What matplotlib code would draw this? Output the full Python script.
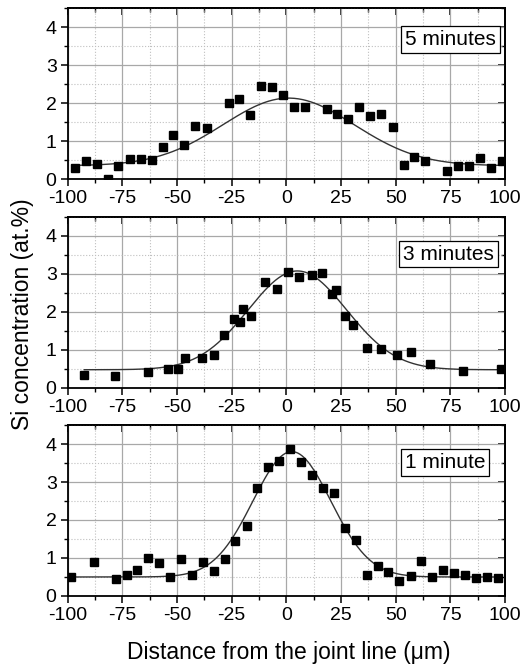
import matplotlib.pyplot as plt
import numpy as np
from matplotlib.ticker import MultipleLocator

plt.rcParams["font.family"] = ["Liberation Sans", "DejaVu Sans"]
plt.rcParams["axes.unicode_minus"] = False

# 5 minutes
x_5min = [-96.7, -91.6, -86.7, -81.7, -76.9, -71.5, -66.6, -61.6, -56.6, -51.7, -46.8, -41.7, -36.5,
          -26.4, -21.7, -16.7, -11.5, -6.5, -1.6, 3.5, 8.3, 18.5, 23.2, 28.3, 33.3, 38.2, 43.4, 48.6,
          53.6, 58.4, 63.3, 73.5, 78.6, 83.6, 88.6, 93.5, 98.4]
y_5min = [0.28, 0.48, 0.40, 0.0, 0.35, 0.53, 0.53, 0.49, 0.85, 1.16, 0.89, 1.40, 1.34,
          1.99, 2.11, 1.68, 2.45, 2.42, 2.20, 1.90, 1.90, 1.83, 1.71, 1.58, 1.90, 1.65, 1.72, 1.37,
          0.37, 0.59, 0.48, 0.21, 0.35, 0.33, 0.55, 0.28, 0.48]

# 3 minutes
x_3min = [-92.4, -78.4, -63.3, -54.3, -49.6, -46.4, -38.5, -33.3, -28.4, -24.1, -21.4, -20.0, -16.2,
          -9.9, -4.2, 0.7, 5.6, 11.5, 16.4, 21.0, 22.8, 26.8, 30.4, 36.7, 43.2, 50.4, 56.8, 65.6,
          80.6, 98.1]
y_3min = [0.34, 0.32, 0.41, 0.49, 0.49, 0.78, 0.78, 0.86, 1.40, 1.81, 1.73, 2.09, 1.90,
          2.78, 2.60, 3.05, 2.91, 2.97, 3.03, 2.47, 2.59, 1.89, 1.67, 1.04, 1.03, 0.88, 0.95, 0.62,
          0.45, 0.49]

# 1 minute
x_1min = [-98.5, -88.1, -78.1, -73.0, -68.5, -63.2, -58.1, -53.1, -48.2, -43.3, -38.1, -33.1, -28.2,
          -23.4, -18.2, -13.5, -8.4, -3.3, 1.8, 6.8, 11.7, 16.7, 21.9, 26.8, 31.7, 36.7, 41.9, 46.6,
          51.6, 56.8, 61.6, 66.7, 71.7, 76.7, 81.8, 86.7, 91.8, 96.7]
y_1min = [0.49, 0.89, 0.44, 0.56, 0.68, 1.01, 0.88, 0.49, 0.98, 0.56, 0.89, 0.65, 0.97,
          1.44, 1.85, 2.84, 3.40, 3.55, 3.87, 3.52, 3.18, 2.83, 2.70, 1.78, 1.48, 0.56, 0.79, 0.63,
          0.40, 0.53, 0.93, 0.49, 0.69, 0.60, 0.56, 0.47, 0.51, 0.47]

# Gaussian fit: baseline, amplitude, centre, width
fit_5min = [0.35, 1.78, 1.0, 30.0]
fit_3min = [0.48, 2.60, 5.0, 22.5]
fit_1min = [0.50, 3.30, 2.5, 17.8]

labels = ["5 minutes", "3 minutes", "1 minute"]
xs = [x_5min, x_3min, x_1min]
ys = [y_5min, y_3min, y_1min]
fits = [fit_5min, fit_3min, fit_1min]
label_pos = [(0.979, 0.871), (0.974, 0.838), (0.954, 0.836)]
bottoms = [0.7332, 0.4218, 0.1118]

gauss = lambda x, y0, a, xc, w: y0 + a*np.exp(-(x - xc)**2/(2*w**2))

fig = plt.figure(figsize=(5.27, 6.71), dpi=100)

for x, y, p, lab, pos, b in zip(xs, ys, fits, labels, label_pos, bottoms):
    ax = fig.add_axes([0.1285, b, 0.830, 0.2548])
    ax.set_xlim(-100, 100)
    ax.set_ylim(0, 4.5)
    ax.set_axisbelow(True)
    ax.xaxis.set_major_locator(MultipleLocator(25))
    ax.xaxis.set_minor_locator(MultipleLocator(12.5))
    ax.yaxis.set_major_locator(MultipleLocator(1))
    ax.yaxis.set_minor_locator(MultipleLocator(0.5))
    ax.grid(which="major", color="#a8a8a8", lw=0.9)
    ax.grid(which="minor", color="#c0c0c0", ls=":", lw=0.8)

    xf = np.linspace(min(x), max(x), 400)
    ax.plot(xf, gauss(xf, *p), color="#333333", lw=1.0)
    ax.plot(x, y, "s", color="black", ms=5.3)

    ax.tick_params(which="major", direction="out", length=5, width=1.1, labelsize=14, pad=3)
    ax.tick_params(which="minor", direction="out", length=3, width=1.0)
    for s in ax.spines.values():
        s.set_linewidth(1.3)

    top = ax.secondary_xaxis("top")
    top.xaxis.set_major_locator(MultipleLocator(25))
    top.xaxis.set_minor_locator(MultipleLocator(12.5))
    top.tick_params(which="major", direction="in", length=5, width=1.1, labeltop=False)
    top.tick_params(which="minor", direction="in", length=3, width=1.0)
    top.spines["top"].set_linewidth(1.3)
    right = ax.secondary_yaxis("right")
    right.yaxis.set_major_locator(MultipleLocator(1))
    right.yaxis.set_minor_locator(MultipleLocator(0.5))
    right.tick_params(which="major", direction="in", length=5, width=1.1, labelright=False)
    right.tick_params(which="minor", direction="in", length=3, width=1.0)
    right.spines["right"].set_linewidth(1.3)

    ax.text(pos[0], pos[1], lab, transform=ax.transAxes, ha="right", va="top", fontsize=15,
            bbox=dict(boxstyle="square,pad=0.18", fc="white", ec="black", lw=0.9))

fig.text(0.042, 1 - 314/671, "Si concentration (at.%)", rotation=90, ha="center", va="center",
         fontsize=16.5)
fig.text(289/527, 1 - 652/671, "Distance from the joint line (\u03bcm)", ha="center", va="center",
         fontsize=16.5)

fig.savefig("out.png", dpi=100)
